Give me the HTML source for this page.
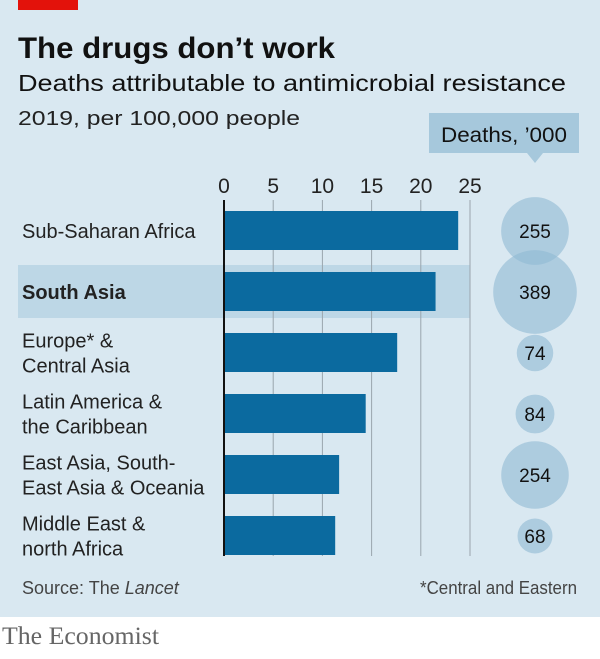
<!DOCTYPE html>
<html><head><meta charset="utf-8"><style>
body{margin:0;width:600px;height:654px;background:#fff;overflow:hidden;font-family:"Liberation Sans",sans-serif}
svg text{font-family:"Liberation Sans",sans-serif}
</style></head><body>
<svg id="c" width="600" height="654">
<rect x="0" y="0" width="600" height="617" fill="#d9e8f1"/>
<rect x="18" y="0" width="60" height="10" fill="#e3120b"/>
<text x="18" y="58" font-size="30" font-weight="bold" fill="#111" textLength="317" lengthAdjust="spacingAndGlyphs">The drugs don’t work</text>
<text x="18" y="91" font-size="23" fill="#111" textLength="548" lengthAdjust="spacingAndGlyphs">Deaths attributable to antimicrobial resistance</text>
<text x="18" y="125" font-size="20" fill="#222" textLength="282" lengthAdjust="spacingAndGlyphs">2019, per 100,000 people</text>
<g>
<rect x="429" y="113" width="150" height="40" fill="#a6c8dc"/>
<polygon points="527,153 543,153 535,163" fill="#a6c8dc"/>
<text x="504" y="142" font-size="21" text-anchor="middle" fill="#111" textLength="126" lengthAdjust="spacingAndGlyphs">Deaths, ’000</text>
</g>
<rect x="18" y="265" width="452" height="53" fill="#bdd7e6"/>
<g id="g"></g>
<text x="22" y="594" font-size="18" fill="#444">Source: The <tspan font-style="italic">Lancet</tspan></text>
<text x="577" y="594" font-size="18" fill="#444" text-anchor="end" textLength="157" lengthAdjust="spacingAndGlyphs">*Central and Eastern</text>
<text x="2" y="644" font-size="25" fill="#666" textLength="157" lengthAdjust="spacingAndGlyphs" style="font-family:'Liberation Serif',serif">The Economist</text>
</svg>
<script>
const categories=[["Sub-Saharan Africa"],["South Asia"],["Europe* &","Central Asia"],["Latin America &","the Caribbean"],["East Asia, South-","East Asia & Oceania"],["Middle East &","north Africa"]];
const rates=[23.8,21.5,17.6,14.4,11.7,11.3];
const deaths=[255,389,74,84,254,68];
const ticks=[0,5,10,15,20,25];
const NS="http://www.w3.org/2000/svg";
const g=document.getElementById('g');
const x=v=>224+v*9.84;
const yTop=i=>211+i*61;
const rad=v=>2.12*Math.sqrt(v);
function mk(t,a,txt){const e=document.createElementNS(NS,t);for(const k in a)e.setAttribute(k,a[k]);if(txt!==undefined)e.textContent=txt;g.appendChild(e);return e;}
ticks.forEach(t=>{
 if(t>0){const l=mk('line',{x1:x(t),x2:x(t),y1:200,y2:556,stroke:'#9aa5ad','stroke-width':1});
 
 }
 const tl=mk('text',{x:x(t),y:193,'font-size':21,'text-anchor':'middle',fill:'#222'},String(t));
 
 
});
rates.forEach((v,i)=>{
 const b=mk('rect',{x:x(0),y:yTop(i),width:x(v)-x(0),height:39,fill:'#0b6a9f'});
 
 
 const lines=categories[i];const cy=yTop(i)+20;
 lines.forEach((s,j)=>{
  const t=mk('text',{x:22,y:cy+7+(j-(lines.length-1)/2)*25,'font-size':20,fill:'#222','font-weight':i===1?'bold':'normal'},s);
  
  
 });
});
const ax=mk('line',{x1:x(0),x2:x(0),y1:200,y2:556,stroke:'#111','stroke-width':2});


deaths.forEach((v,i)=>{
 const cy=yTop(i)+20;
 const c=mk('circle',{cx:535,cy:cy,r:rad(v),fill:'#8fb9d3','fill-opacity':0.6});
 
 
 const t=mk('text',{x:535,y:cy+7,'font-size':19,'text-anchor':'middle',fill:'#111'},String(v));
 
 
});
</script>
</body></html>
